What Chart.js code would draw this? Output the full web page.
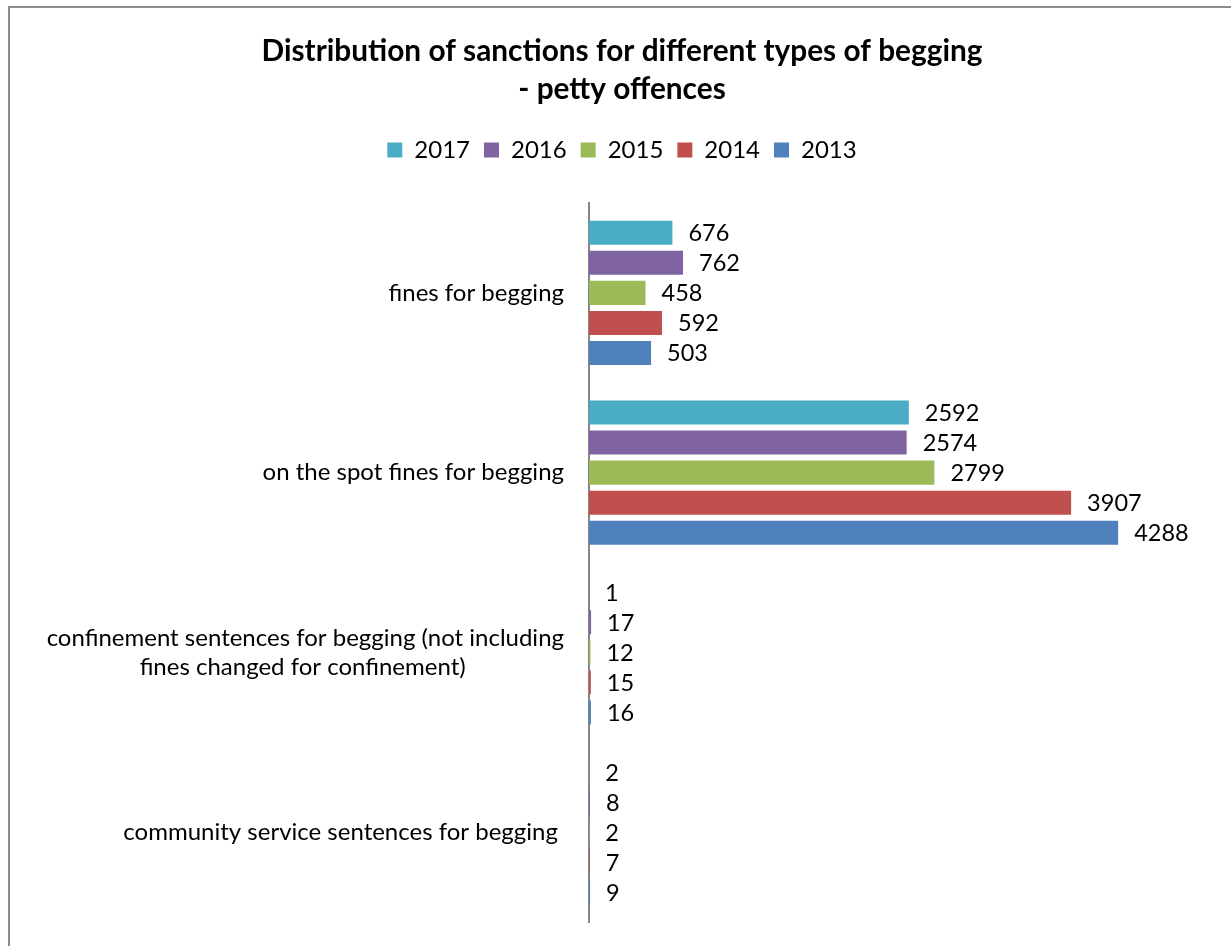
<!DOCTYPE html>
<html>
<head>
<meta charset="utf-8">
<script src="https://cdn.jsdelivr.net/npm/chart.js@4/dist/chart.umd.min.js"></script>
<style>
  html, body { margin: 0; padding: 0; background: #fff; }
  #wrap { position: relative; width: 1231px; height: 946px; overflow: hidden; }
  #frame { position: absolute; left: 8px; top: 6px; width: 1300px; height: 1000px;
           border-left: 2px solid #8c8c8c; border-top: 2px solid #8c8c8c; box-sizing: border-box; }
  canvas { position: absolute; left: 0; top: 0; }
</style>
</head>
<body>
<div id="wrap">
  <div id="frame"></div>
  <canvas id="c" width="1231" height="946"></canvas>
</div>
<script>
const categories = [
  'fines for begging',
  'on the spot fines for begging',
  ['confinement sentences for begging (not including', 'fines changed for confinement)'],
  'community service sentences for begging'
];
const seriesNames = ['2017', '2016', '2015', '2014', '2013'];
const values2017 = [676, 2592, 1, 2];
const values2016 = [762, 2574, 17, 8];
const values2015 = [458, 2799, 12, 2];
const values2014 = [592, 3907, 15, 7];
const values2013 = [503, 4288, 16, 9];
const colors = ['#4BACC6', '#8064A2', '#9BBB59', '#C0504D', '#4F81BD'];

const FONT = 'Lato, "Open Sans", sans-serif';
const LABEL_SIZE = 24;

// center the wrapped lines of a multi-line category label relative to each other
const mctx = document.createElement('canvas').getContext('2d');
mctx.font = LABEL_SIZE + 'px ' + FONT;
const nb = '\u00a0';
const nbW = mctx.measureText(nb).width || 5;
const tickLabels = categories.map(c => {
  if (!Array.isArray(c)) return c;
  const widths = c.map(l => mctx.measureText(l).width);
  const maxW = Math.max(...widths);
  return c.map((l, i) => l + nb.repeat(Math.round((maxW - widths[i]) / 2 / nbW)));
});
tickLabels[3] = tickLabels[3] + nb;

const valueLabels = {
  id: 'valueLabels',
  afterDatasetsDraw(chart) {
    const ctx = chart.ctx;
    ctx.save();
    ctx.font = '23.5px ' + FONT;
    ctx.fillStyle = '#000';
    ctx.textAlign = 'left';
    ctx.textBaseline = 'middle';
    chart.data.datasets.forEach((ds, i) => {
      const meta = chart.getDatasetMeta(i);
      meta.data.forEach((el, j) => {
        ctx.fillText(String(ds.data[j]), el.x + 16, el.y + 1);
      });
    });
    ctx.restore();
  }
};

const allValues = [values2017, values2016, values2015, values2014, values2013];

new Chart(document.getElementById('c'), {
  type: 'bar',
  data: {
    labels: tickLabels,
    datasets: seriesNames.map((n, i) => ({
      label: n,
      data: allValues[i],
      backgroundColor: colors[i],
      borderWidth: 0,
      barPercentage: 0.8,
      categoryPercentage: 0.835
    }))
  },
  options: {
    indexAxis: 'y',
    responsive: false,
    animation: false,
    layout: { padding: { left: 38, right: 25, top: 32, bottom: 24 } },
    plugins: {
      tooltip: { enabled: false },
      title: {
        display: true,
        text: ['Distribution of sanctions for different types of begging', '- petty offences'],
        color: '#000',
        font: { family: FONT, size: 29.8, weight: 'bold', lineHeight: 38 / 29.8 },
        padding: { top: 0, bottom: 16 }
      },
      legend: {
        position: 'top',
        labels: {
          color: '#000',
          font: { family: FONT, size: 24 },
          boxWidth: 15,
          boxHeight: 15,
          padding: 14
        }
      }
    },
    scales: {
      x: {
        position: 'top',
        min: 0,
        max: 5000,
        grid: { display: false },
        border: { display: false },
        ticks: { display: false },
        afterFit(scale) { scale.height = 31; }
      },
      y: {
        grid: { display: false, drawTicks: false },
        border: { display: true, color: '#868686', width: 2 },
        ticks: {
          color: '#000',
          font: { family: FONT, size: LABEL_SIZE },
          padding: 25
        },
        afterFit(scale) {
          scale.width = 589 - 38;
          scale.paddingTop = 0;
          scale.paddingBottom = 0;
        }
      }
    }
  },
  plugins: [valueLabels]
});
</script>
</body>
</html>
